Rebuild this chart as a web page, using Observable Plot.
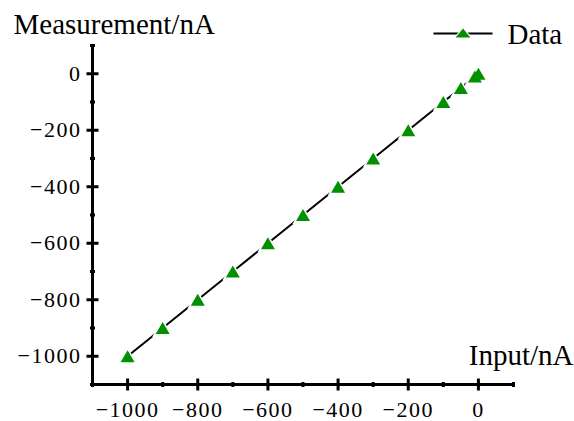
<!DOCTYPE html>
<html><head><meta charset="utf-8">
<script src="https://cdn.jsdelivr.net/npm/d3@7"></script>
<script src="https://cdn.jsdelivr.net/npm/@observablehq/plot@0.6"></script>
<style>
body{margin:0;background:#fff}
svg{display:block}
svg text{font-family:'Liberation Serif','Times New Roman',serif}
g[aria-label="x-axis tick label"] text, g[aria-label="y-axis tick label"] text{letter-spacing:1.5px}
</style>
</head><body><div id="chart"></div>
<script>
const inputValues = [-1000, -900, -800, -700, -600, -500, -400, -300, -200, -100, -50, -10, 0];
const measuredValues = [-1000, -900, -800, -700, -600, -500, -400, -300, -200, -100, -50, -10, 0];
const majorTicks = [-1000, -800, -600, -400, -200, 0];
const minorTicks = [-1100, -900, -700, -500, -300, -100, 100];
const seriesName = "Data";
const xTitle = "Input/nA";
const yTitle = "Measurement/nA";
const axisDomain = [-1100, 100];

const data = inputValues.map((x, i) => ({x, y: measuredValues[i]}));
const hline = {draw(ctx, size) { const r = Math.sqrt(size / Math.PI); ctx.moveTo(-r, 0); ctx.lineTo(r, 0); }};
const vline = {draw(ctx, size) { const r = Math.sqrt(size / Math.PI); ctx.moveTo(0, -r); ctx.lineTo(0, r); }};
const tri = {draw(ctx, size) { const r = Math.sqrt(size / Math.PI); const w = r * 7 / 6; ctx.moveTo(0, -r); ctx.lineTo(w, r); ctx.lineTo(-w, r); ctx.closePath(); }};
const triFlat = {draw(ctx, size) { const r = Math.sqrt(size / Math.PI); const w = r * 1.6; ctx.moveTo(0, -r); ctx.lineTo(w, r); ctx.lineTo(-w, r); ctx.closePath(); }};
const green = "#009000";
const font = "'Liberation Serif', 'Times New Roman', serif";
const fmt = d3.format("d");

const chart = Plot.plot({
  width: 574, height: 421,
  marginLeft: 92, marginRight: 61, marginTop: 45, marginBottom: 37,
  style: {fontFamily: font, background: "#fff", overflow: "visible"},
  x: {domain: axisDomain},
  y: {domain: axisDomain},
  marks: [
    Plot.ruleX([axisDomain[0]], {y1: axisDomain[0], y2: axisDomain[1], stroke: "black", strokeWidth: 3}),
    Plot.ruleY([axisDomain[0]], {x1: axisDomain[0], x2: axisDomain[1], stroke: "black", strokeWidth: 3}),
    Plot.dot(majorTicks, {x: axisDomain[0], y: d => d, symbol: hline, r: 6, fill: "none", stroke: "black", strokeWidth: 3}),
    Plot.dot(majorTicks, {y: axisDomain[0], x: d => d, symbol: vline, r: 6, fill: "none", stroke: "black", strokeWidth: 3}),
    Plot.dot(minorTicks, {x: axisDomain[0], y: d => d, symbol: hline, r: 2.5, fill: "none", stroke: "black", strokeWidth: 3}),
    Plot.dot(minorTicks, {y: axisDomain[0], x: d => d, symbol: vline, r: 2.5, fill: "none", stroke: "black", strokeWidth: 3}),
    Plot.axisX({ticks: majorTicks, tickFormat: fmt, tickSize: 0, tickPadding: 17, fontSize: 22, fontFamily: font, label: null}),
    Plot.axisY({ticks: majorTicks, tickFormat: fmt, tickSize: 0, tickPadding: 11, fontSize: 22, fontFamily: font, label: null}),
    Plot.line(data, {x: "x", y: "y", stroke: "black", strokeWidth: 2}),
    Plot.dot(data, {x: "x", y: "y", symbol: tri, r: 9, fill: "white", stroke: "none"}),
    Plot.dot(data, {x: "x", y: "y", symbol: tri, r: 6, fill: green, stroke: "none"}),
    Plot.text([yTitle], {text: d => d, frameAnchor: "top-left", dx: -79, dy: -12, textAnchor: "start", lineAnchor: "bottom", fontSize: 29, fontFamily: font, fill: "black"}),
    Plot.text([xTitle], {text: d => d, frameAnchor: "bottom-right", dx: 60, dy: -20, textAnchor: "end", lineAnchor: "bottom", fontSize: 29, fontFamily: font, fill: "black"}),
    Plot.dot([seriesName], {frameAnchor: "top-right", dx: -50.5, dy: -12, symbol: hline, r: 29.5, fill: "none", stroke: "black", strokeWidth: 2}),
    Plot.dot([seriesName], {frameAnchor: "top-right", dx: -50.5, dy: -12, symbol: triFlat, r: 7, fill: "white", stroke: "none"}),
    Plot.dot([seriesName], {frameAnchor: "top-right", dx: -50.5, dy: -12.5, symbol: triFlat, r: 4.6, fill: green, stroke: "none"}),
    Plot.text([seriesName], {text: d => d, frameAnchor: "top-right", dx: -6, dy: -2, textAnchor: "start", lineAnchor: "bottom", fontSize: 29, fontFamily: font, fill: "black"})
  ]
});
document.getElementById("chart").append(chart);
</script>
</body></html>
